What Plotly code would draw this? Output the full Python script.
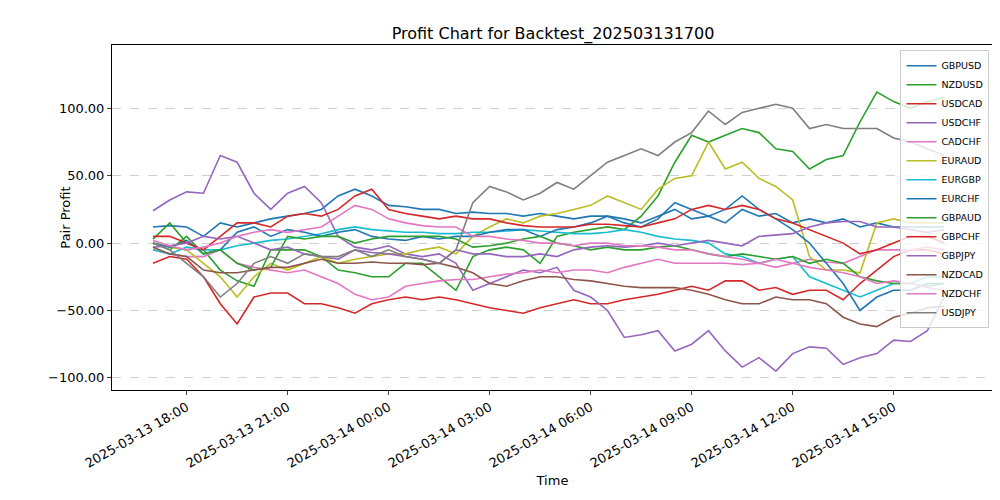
import pandas as pd
import plotly.graph_objects as go

times = pd.date_range("2025-03-13 17:00", periods=48, freq="30min")

names = ["GBPUSD","NZDUSD","USDCAD","USDCHF","CADCHF","EURAUD","EURGBP","EURCHF",
         "GBPAUD","GBPCHF","GBPJPY","NZDCAD","NZDCHF","USDJPY"]
colors = ["#1f77b4","#2ca02c","#d62728","#9467bd","#e377c2","#bcbd22","#17becf","#1f77b4",
          "#2ca02c","#d62728","#9467bd","#8c564b","#e377c2","#7f7f7f"]

GBPUSD = [12,13,12,5,15,12,15,18,20,22,25,35,40,35,28,27,25,25,22,23,22,22,20,22,20,18,20,20,18,15,20,25,18,20,15,25,20,22,15,18,15,18,12,15,12,12,12,12]
NZDUSD = [3,15,0,-5,-20,-28,-32,-5,-5,-5,-10,-20,-22,-25,-25,-15,-15,-25,-35,-10,-5,-3,-5,-15,5,8,10,12,10,20,35,60,80,75,80,85,82,70,68,55,62,65,90,112,105,100,105,108]
USDCAD = [-15,-10,-12,-25,-45,-60,-40,-37,-37,-45,-45,-48,-52,-45,-42,-40,-42,-40,-42,-45,-48,-50,-52,-48,-45,-42,-45,-45,-42,-40,-38,-35,-32,-35,-28,-28,-35,-33,-38,-35,-35,-42,-30,-20,-10,-5,-5,-8]
USDCHF = [24,32,38,37,65,60,37,25,37,42,30,5,-3,-5,-2,-8,-10,-8,-15,-35,-30,-25,-20,-22,-18,-35,-40,-50,-70,-68,-65,-80,-75,-65,-80,-92,-85,-95,-82,-77,-78,-90,-85,-82,-72,-73,-65,-40]
CADCHF = [-5,-8,-10,-10,-5,-15,-18,-20,-22,-20,-25,-30,-38,-42,-40,-32,-30,-28,-27,-27,-25,-23,-22,-20,-22,-20,-20,-22,-18,-15,-12,-15,-15,-15,-15,-16,-15,-18,-15,-12,-14,-15,-10,-5,-5,-5,-3,-5]
EURAUD = [0,-3,-5,-15,-25,-40,-25,-15,-20,-15,-10,-15,-12,-10,-8,-8,-5,-3,-8,5,12,18,15,20,22,25,28,35,30,25,40,48,50,75,55,60,48,42,32,-10,-20,-20,-22,15,18,15,15,15]
EURGBP = [-5,-8,-3,-5,-5,-2,0,2,3,5,7,10,12,10,9,8,8,7,7,8,8,9,10,9,8,7,7,8,10,8,5,3,2,0,-8,-10,-15,-12,-10,-25,-30,-35,-40,-35,-30,-30,-25,-25]
EURCHF = [0,-3,2,-8,-5,8,12,5,10,8,5,8,10,5,3,2,5,3,5,5,8,10,10,5,10,12,15,20,15,12,18,30,25,20,25,35,25,18,10,0,-15,-30,-50,-40,-35,-35,-30,-30]
GBPAUD = [0,-5,5,-8,-5,-15,-20,-18,5,3,5,5,0,3,5,5,5,5,3,-3,-2,0,3,5,0,-2,-5,-3,-5,-5,-3,-2,-5,-8,-10,-8,-10,-12,-10,-15,-12,-15,-25,-28,-30,-30,-32,-30]
GBPCHF = [5,5,0,-5,5,15,15,12,20,22,20,25,35,40,25,22,20,18,20,18,18,15,13,12,12,12,14,14,13,12,15,18,25,28,25,28,25,18,15,10,5,0,-8,-5,0,5,5,0]
GBPJPY = [-3,-2,0,5,3,5,0,-5,-3,-8,-10,-12,-5,-7,-8,-10,-12,-15,-5,-8,-8,-10,-10,-8,-10,-5,-3,-2,-3,-2,0,-2,0,2,0,-2,5,6,7,12,15,16,16,12,12,10,8,10]
NZDCAD = [-3,-8,-10,-20,-22,-22,-20,-18,-18,-15,-12,-15,-15,-14,-15,-15,-16,-15,-18,-22,-30,-32,-28,-25,-25,-27,-28,-30,-32,-33,-33,-33,-35,-38,-42,-45,-45,-40,-42,-42,-45,-55,-60,-62,-55,-52,-48,-47]
NZDCHF = [2,-2,-5,-3,0,5,8,10,8,10,12,20,28,25,18,15,13,12,12,5,5,3,2,0,0,-2,0,0,-2,-2,-3,-5,-5,-8,-10,-12,-15,-12,-15,-18,-20,-22,-25,-30,-28,-30,-33,-35]
USDJPY = [0,-5,-15,-25,-40,-30,-15,-10,-15,-8,-10,-10,-5,-10,-5,-10,-12,-15,-5,30,42,38,32,37,45,40,50,60,65,70,65,75,82,98,88,97,100,103,100,85,88,85,85,85,78,75,70,65]

series = [GBPUSD,NZDUSD,USDCAD,USDCHF,CADCHF,EURAUD,EURGBP,EURCHF,GBPAUD,GBPCHF,GBPJPY,NZDCAD,NZDCHF,USDJPY]

fig = go.Figure()
for n, c, v in zip(names, colors, series):
    fig.add_trace(go.Scatter(x=times, y=v, mode="lines", name=n, line=dict(color=c, width=1.6)))

font = "DejaVu Sans"
fig.update_layout(
    width=1000, height=500, template="none", plot_bgcolor="white", paper_bgcolor="white",
    margin=dict(l=104, r=15, t=37, b=118, autoexpand=False),
    font=dict(family=font, size=13, color="black"),
    title=dict(text="Profit Chart for Backtest_202503131700", x=0.545, xanchor="center", y=0.95, yanchor="middle", font=dict(size=16)),
    legend=dict(x=0.996, y=0.985, xanchor="right", yanchor="top", font=dict(size=9.5),
                bgcolor="rgba(255,255,255,0.8)", bordercolor="#cccccc", borderwidth=1, tracegroupgap=0,
                itemwidth=30, entrywidth=0),
    showlegend=True,
)
fig.update_xaxes(title=dict(text="Time", font=dict(size=13), standoff=5), range=["2025-03-13 15:47", "2025-03-14 17:57"],
                 tick0="2025-03-13 18:00", dtick=3*3600*1000, tickformat="%Y-%m-%d %H:%M", tickangle=-30,
                 showgrid=False, showline=True, linecolor="black", mirror=True, ticks="outside", ticklen=4,
                 zeroline=False, automargin=False)
fig.update_yaxes(title=dict(text="Pair Profit", font=dict(size=13)), range=[-109, 147], tickvals=[-100,-50,0,50,100],
                 tickformat=".2f", showgrid=True, gridcolor="#d0d0d0", griddash="dash", showline=True, linecolor="black",
                 mirror=True, ticks="outside", ticklen=4, zeroline=False, automargin=False)
fig.write_html("out.html")
